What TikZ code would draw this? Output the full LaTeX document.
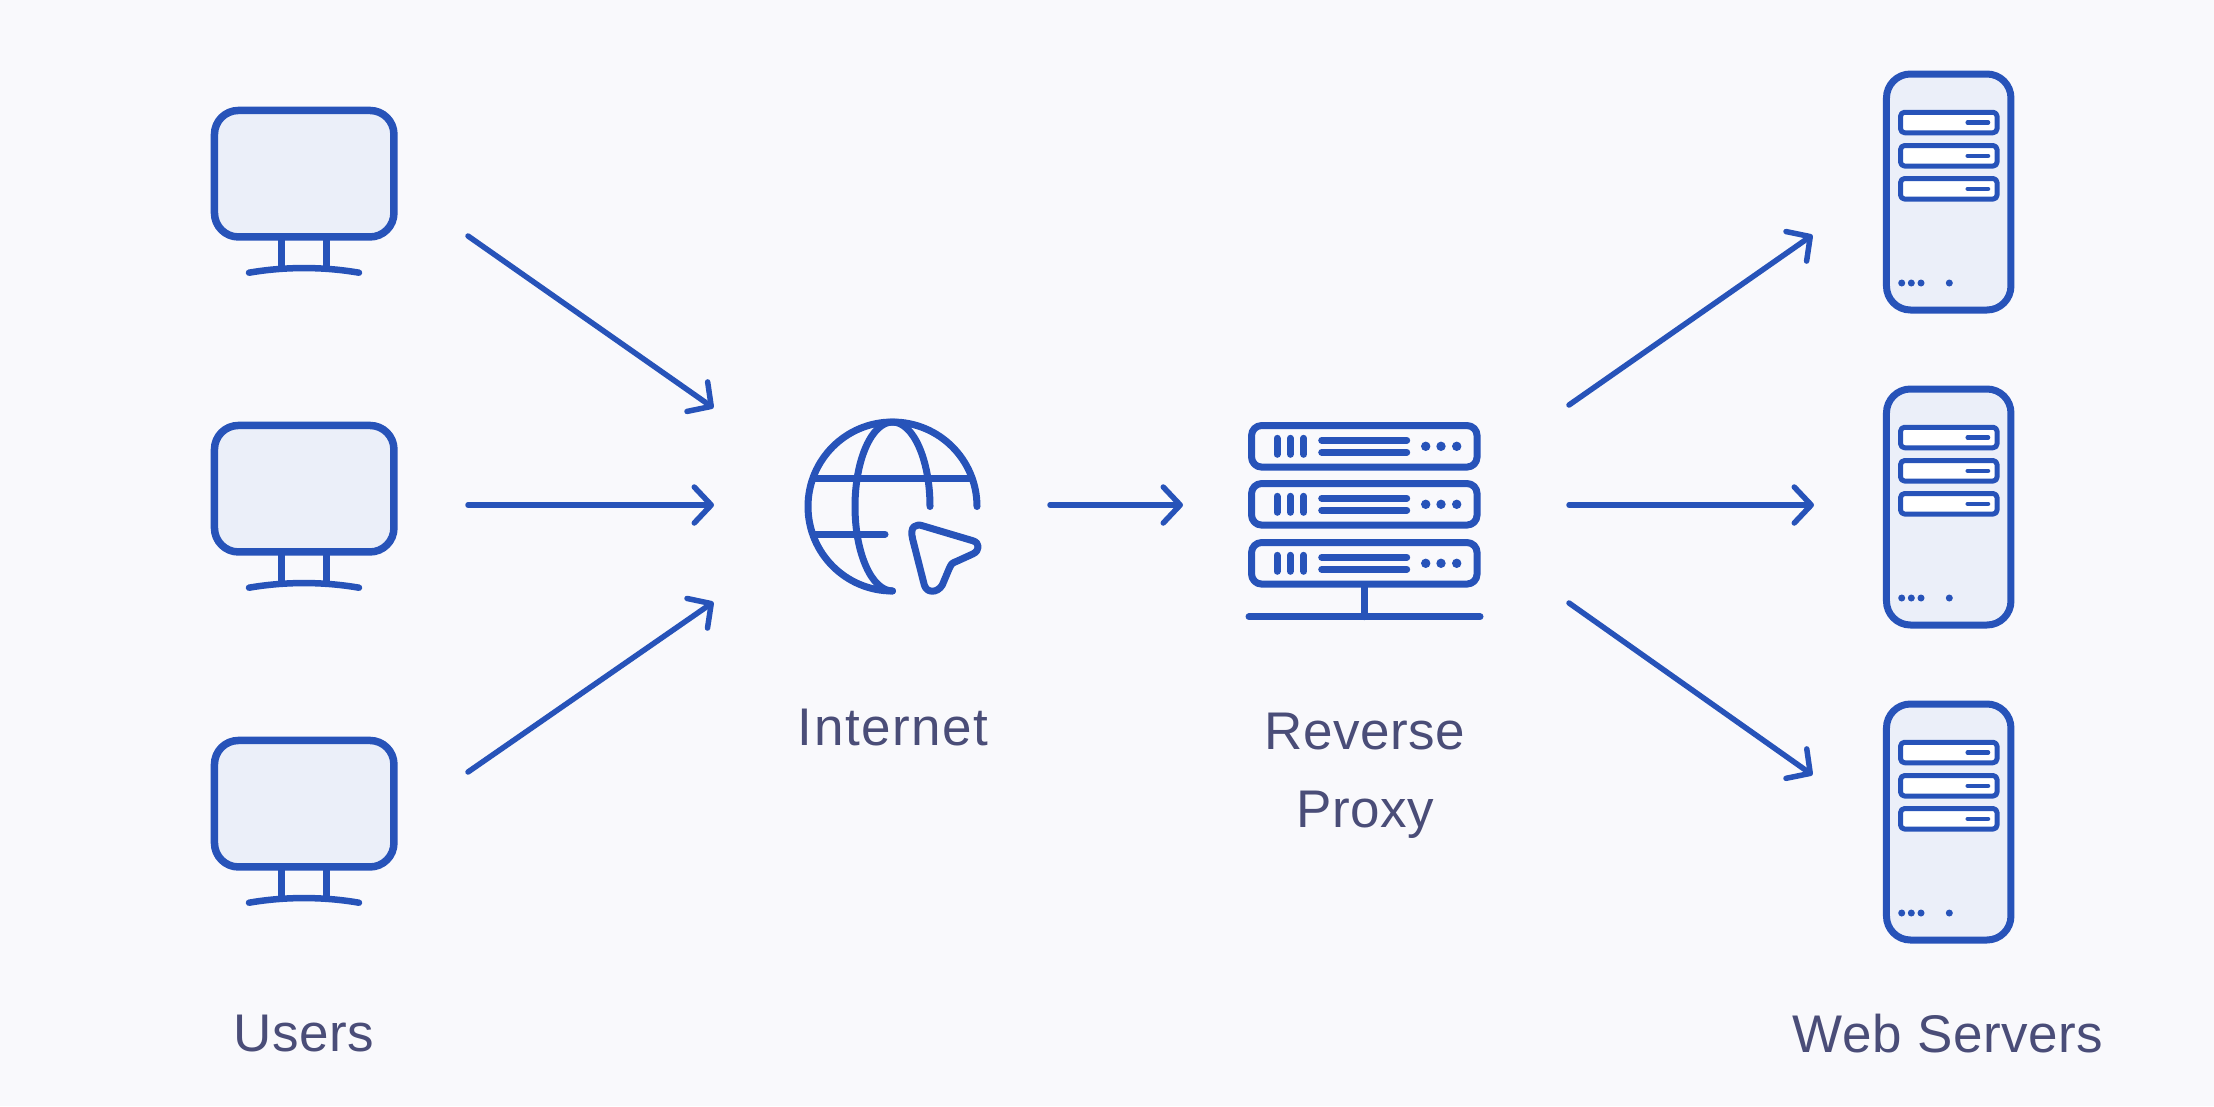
\documentclass[tikz,border=0pt]{standalone}
\usepackage{fontspec}
\setmainfont[LetterSpace=1.0]{Liberation Sans}
\usetikzlibrary{arrows.meta}
\definecolor{strokeblue}{HTML}{2753B9}
\definecolor{paleblue}{HTML}{EBEFF9}
\definecolor{pagebg}{HTML}{F9F9FC}
\definecolor{labelink}{HTML}{4A4D78}
\begin{document}
\begin{tikzpicture}[x=1pt, y=-1pt, line cap=round, line join=round,
    >={Straight Barb[length=17pt, width=36pt, round]},
    link/.style={->, strokeblue, line width=5.5pt},
    icon/.style={strokeblue, line width=7pt},
    screen/.style={draw=strokeblue, fill=paleblue, line width=7.5pt, rounded corners=24pt, minimum width=179.5pt, minimum height=126.5pt, inner sep=0pt},
    tower/.style={draw=strokeblue, fill=paleblue, line width=7pt, rounded corners=24pt, minimum width=124.5pt, minimum height=236pt, inner sep=0pt},
    bay/.style={draw=strokeblue, fill=white, line width=5pt, rounded corners=4pt, minimum width=96.5pt, minimum height=20.5pt, inner sep=0pt},
    rack/.style={draw=strokeblue, fill=pagebg, line width=7pt, rounded corners=10pt, minimum width=225.5pt, minimum height=41.5pt, inner sep=0pt},
    caption/.style={text=labelink, font=\fontsize{53}{78}\selectfont, align=center, inner sep=0pt}]
  \fill[pagebg] (0,0) rectangle (2214,1106);
  % users
  \foreach \n/\dy in {1/0, 2/315, 3/630} {
    \begin{scope}[yshift=-\dy pt]
      \draw[icon, line width=6.5pt] (281.7,237) -- (281.7,267);
      \draw[icon, line width=6.5pt] (326.7,237) -- (326.7,267);
      \draw[icon, line width=6.5pt] (249,272.7) .. controls (285,266.5) and (323,266.5) .. (359,272.7);
      \node[screen] (user\n) at (304.2,173.7) {};
    \end{scope}
  }
  % globe
  \node[minimum size=0pt, inner sep=0pt] (globe) at (892.5,506.5) {};
  \draw[icon] (977,506.5) arc[start angle=0, end angle=270, radius=84.5pt];
  \draw[icon] (930,506.5) arc[start angle=0, end angle=270, x radius=37.5pt, y radius=84.5pt];
  \draw[icon] (815,478) -- (970,478);
  \draw[icon] (815,534) -- (885,534);
  \draw[icon] (923.3,526) -- (972.7,540.7) .. controls (980,542.7) and (980,550.7) .. (972.7,554)
    -- (956.7,561.3) .. controls (951.7,563.3) .. (949.3,568.3) -- (942.3,585)
    .. controls (937.3,593.3) and (926.7,593.3) .. (924.3,585) -- (912.7,539.3)
    .. controls (909.3,526) and (916,523.3) .. (923.3,526) -- cycle;
  % proxy
  \foreach \n/\cy in {1/446.3, 2/504.3, 3/563.3} {
    \node[rack] (rack\n) at (1364.3,\cy) {};
    \draw[icon] (1277,\cy-8) -- (1277,\cy+8);
    \draw[icon] (1290.4,\cy-8) -- (1290.4,\cy+8);
    \draw[icon] (1303.7,\cy-8) -- (1303.7,\cy+8);
    \draw[icon] (1321.7,\cy-6) -- (1406.7,\cy-6);
    \draw[icon] (1321.7,\cy+6) -- (1406.7,\cy+6);
    \fill[strokeblue] (1425.7,\cy) circle (4.7pt);
    \fill[strokeblue] (1441,\cy) circle (4.7pt);
    \fill[strokeblue] (1456.7,\cy) circle (4.7pt);
  }
  \draw[icon] (rack3.south) -- (1364.3,616.7);
  \draw[icon] (1249,616.7) -- (1480,616.7);
  % servers
  \foreach \n/\dy in {1/0, 2/315, 3/630} {
    \begin{scope}[yshift=-\dy pt]
      \node[tower] (server\n) at (1948.7,192) {};
      \foreach \m/\cy in {1/122.5, 2/155.8, 3/188.8} {
        \node[bay] (bay\n\m) at (1948.8,\cy) {};
        \draw[icon, line width=4.5pt] (1967.7,\cy) -- (1988,\cy);
      }
      \fill[strokeblue] (1901.7,283) circle (3.5pt);
      \fill[strokeblue] (1911.3,283) circle (3.5pt);
      \fill[strokeblue] (1921,283) circle (3.5pt);
      \fill[strokeblue] (1949.3,283) circle (3.5pt);
    \end{scope}
  }
  % arrows
  \coordinate (in1) at (468,236);
  \coordinate (in2) at (468,505);
  \coordinate (in3) at (468,772);
  \coordinate (net1) at (713.5,408);
  \coordinate (net2) at (714,505);
  \coordinate (net3) at (713.5,602);
  \coordinate (netout) at (1050,505);
  \coordinate (proxyin) at (1183,505);
  \coordinate (out1) at (1569,405);
  \coordinate (out2) at (1569,505);
  \coordinate (out3) at (1569,603);
  \coordinate (srv1) at (1812.5,235);
  \coordinate (srv2) at (1814,505);
  \coordinate (srv3) at (1812.5,775);
  \draw[link] (in1) -- (net1);
  \draw[link] (in2) -- (net2);
  \draw[link] (in3) -- (net3);
  \draw[link] (netout) -- (proxyin);
  \draw[link] (out1) -- (srv1);
  \draw[link] (out2) -- (srv2);
  \draw[link] (out3) -- (srv3);
  % labels
  \node[caption] (userslabel) at (304,1034) {Users};
  \node[caption] (internetlabel) at (893,728) {\addfontfeature{LetterSpace=2.8}Internet};
  \node[caption] (proxylabel) at (1365,776) {Reverse\\Proxy};
  \node[caption] (serverslabel) at (1948,1034) {Web Servers};
\end{tikzpicture}
\end{document}
